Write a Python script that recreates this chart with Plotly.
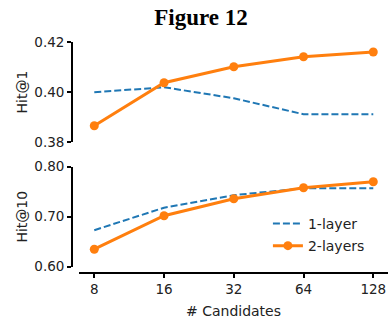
import math
import plotly.graph_objects as go

candidates = [8, 16, 32, 64, 128]
x_tick_labels = ["8", "16", "32", "64", "128"]
hit1_one_layer = [0.3999, 0.4019, 0.3975, 0.3911, 0.3911]
hit1_two_layers = [0.3865, 0.4037, 0.4101, 0.4141, 0.4160]
hit10_one_layer = [0.673, 0.718, 0.743, 0.757, 0.757]
hit10_two_layers = [0.635, 0.702, 0.736, 0.758, 0.770]
hit1_ticks = [0.38, 0.40, 0.42]
hit10_ticks = [0.60, 0.70, 0.80]

BLUE = "#1f77b4"
ORANGE = "#ff7f0e"
FONT = "DejaVu Sans"

fig = go.Figure()

# top panel (Hit@1)
fig.add_trace(go.Scatter(x=candidates, y=hit1_one_layer, mode="lines", xaxis="x2", yaxis="y2",
                         line=dict(color=BLUE, width=2, dash="7px,3px"), showlegend=False))
fig.add_trace(go.Scatter(x=candidates, y=hit1_two_layers, mode="lines+markers", xaxis="x2", yaxis="y2",
                         line=dict(color=ORANGE, width=3), marker=dict(size=9, color=ORANGE),
                         cliponaxis=False, showlegend=False))
# bottom panel (Hit@10)
fig.add_trace(go.Scatter(x=candidates, y=hit10_one_layer, mode="lines", xaxis="x", yaxis="y",
                         name="1-layer", legendgroup="a",
                         line=dict(color=BLUE, width=2, dash="7px,3px")))
fig.add_trace(go.Scatter(x=candidates, y=hit10_two_layers, mode="lines+markers", xaxis="x", yaxis="y",
                         name="2-layers", legendgroup="b",
                         line=dict(color=ORANGE, width=3), marker=dict(size=9, color=ORANGE),
                         cliponaxis=False))

L, R, T, B = 72, 1, 42, 49
W, H = 389, 322
pw = W - L - R
ph = H - T - B
xdom0 = (79 - L) / pw

def ydom(top_px, bot_px):
    return [(H - B - bot_px) / ph, (H - B - top_px) / ph]

xr = [2.781 * math.log10(2), 7.211 * math.log10(2)]

axis_common = dict(showgrid=False, zeroline=False, showline=True, linecolor="black", linewidth=1.8,
                   ticks="outside", ticklen=4, tickwidth=1.5, tickcolor="black",
                   tickfont=dict(family=FONT, size=13.5, color="#222"))

fig.update_layout(
    width=W, height=H,
    margin=dict(l=L, r=R, t=T, b=B, pad=0),
    paper_bgcolor="white", plot_bgcolor="white",
    font=dict(family=FONT, size=14, color="#222"),
    title=dict(text="<b>Figure 12</b>", font=dict(family="Liberation Serif", size=23, color="black"),
               x=201 / W, xanchor="center", xref="container",
               y=1 - 17 / H, yanchor="middle", yref="container"),
    xaxis=dict(type="log", range=xr, domain=[xdom0, 1], anchor="free", position=0,
               tickvals=candidates, ticktext=x_tick_labels,
               title=dict(text="# Candidates", font=dict(family=FONT, size=14), standoff=9),
               **axis_common),
    xaxis2=dict(type="log", range=xr, domain=[xdom0, 1], anchor="y2", matches="x", visible=False),
    yaxis=dict(range=[0.60, 0.80], domain=ydom(166.7, 266.7), anchor="free", position=0,
               tickvals=hit10_ticks, ticktext=["0.60", "0.70", "0.80"],
               title=dict(text="Hit@10", font=dict(family=FONT, size=14), standoff=2),
               **axis_common),
    yaxis2=dict(range=[0.38, 0.42], domain=ydom(42, 142), anchor="free", position=0,
                tickvals=hit1_ticks, ticktext=["0.38", "0.40", "0.42"],
                title=dict(text="Hit@1", font=dict(family=FONT, size=14), standoff=2),
                **axis_common),
    legend=dict(x=0.62, y=0.282, xanchor="left", yanchor="top", bgcolor="rgba(0,0,0,0)",
                font=dict(family=FONT, size=14, color="#222"), itemwidth=30, tracegroupgap=1),
)

fig.write_html("out.html", config={"displayModeBar": False},
               post_script="document.body.style.margin='0';")
